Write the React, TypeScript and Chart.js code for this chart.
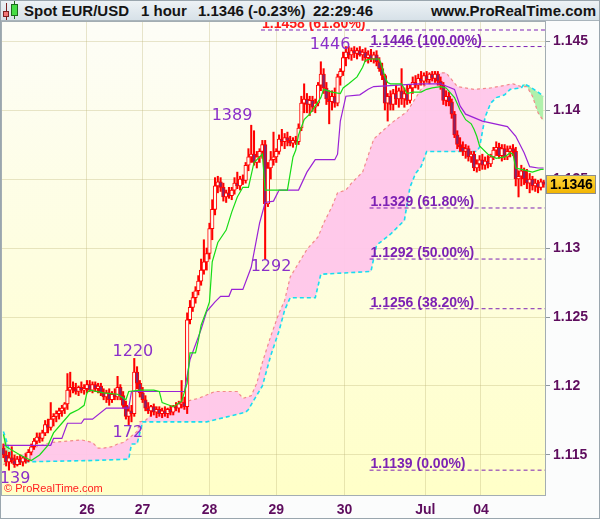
import React, { useEffect, useRef } from 'react';
import { Chart, registerables } from 'chart.js';

Chart.register(...registerables);

// ---------- hourly candles (EUR/USD) ----------
const opens = [1.1155,1.1150,1.1145,1.1148,1.1146,1.1143,1.1147,1.1145,1.1148,1.1146,
1.1152,1.1156,1.1160,1.1163,1.1162,1.1166,1.1172,1.1170,1.1176,1.1178,
1.1180,1.1182,1.1184,1.1187,1.1197,1.1199,1.1198,1.1196,1.1199,1.1197,
1.1198,1.1201,1.1197,1.1201,1.1198,1.1200,1.1195,1.1192,1.1195,1.1190,
1.1194,1.1192,1.1199,1.1193,1.1186,1.1178,1.1182,1.1180,1.1210,1.1202,
1.1195,1.1190,1.1184,1.1182,1.1185,1.1181,1.1183,1.1180,1.1182,1.1180,
1.1183,1.1181,1.1185,1.1184,1.1187,1.1188,1.1185,1.1248,1.1257,1.1264,
1.1269,1.1276,1.1284,1.1290,1.1296,1.1314,1.1328,1.1345,1.1348,1.1344,
1.1337,1.1340,1.1338,1.1342,1.1347,1.1345,1.1350,1.1349,1.1360,1.1366,
1.1368,1.1362,1.1366,1.1370,1.1375,1.1332,1.1358,1.1364,1.1366,1.1370,
1.1379,1.1377,1.1380,1.1378,1.1376,1.1378,1.1377,1.1387,1.1405,1.1408,
1.1404,1.1407,1.1402,1.1405,1.1418,1.1426,1.1416,1.1408,1.1406,1.1410,
1.1405,1.1424,1.1428,1.1438,1.1442,1.1440,1.1443,1.1441,1.1443,1.1440,
1.1442,1.1438,1.1440,1.1437,1.1440,1.1435,1.1430,1.1425,1.1405,1.1410,
1.1404,1.1412,1.1408,1.1414,1.1408,1.1412,1.1407,1.1416,1.1420,1.1418,
1.1423,1.1421,1.1425,1.1422,1.1426,1.1423,1.1426,1.1421,1.1418,1.1407,
1.1410,1.1406,1.1397,1.1382,1.1375,1.1373,1.1370,1.1372,1.1366,1.1368,
1.1358,1.1361,1.1364,1.1360,1.1363,1.1361,1.1366,1.1371,1.1373,1.1367,
1.1372,1.1366,1.1370,1.1372,1.1370,1.1350,1.1352,1.1356,1.1350,1.1347,
1.1350,1.1345,1.1347,1.1344,1.1348];

const highs = [1.1158,1.1153,1.1152,1.1156,1.1150,1.1149,1.1150,1.1149,1.1151,1.1154,
1.1158,1.1162,1.1166,1.1166,1.1168,1.1175,1.1176,1.1188,1.1180,1.1182,
1.1184,1.1186,1.1188,1.1209,1.1210,1.1203,1.1202,1.1200,1.1203,1.1201,
1.1204,1.1204,1.1203,1.1203,1.1202,1.1202,1.1198,1.1197,1.1198,1.1196,
1.1198,1.1207,1.1201,1.1196,1.1189,1.1185,1.1186,1.1220,1.1214,1.1204,
1.1199,1.1193,1.1188,1.1186,1.1187,1.1185,1.1185,1.1184,1.1185,1.1184,
1.1186,1.1186,1.1188,1.1189,1.1204,1.1192,1.1253,1.1262,1.1268,1.1272,
1.1280,1.1292,1.1306,1.1300,1.1318,1.1335,1.1351,1.1352,1.1351,1.1347,
1.1342,1.1344,1.1344,1.1351,1.1355,1.1352,1.1353,1.1362,1.1372,1.1389,
1.1385,1.1370,1.1372,1.1378,1.1378,1.1362,1.1370,1.1384,1.1372,1.1382,
1.1386,1.1383,1.1384,1.1381,1.1380,1.1381,1.1390,1.1410,1.1419,1.1412,
1.1410,1.1410,1.1408,1.1420,1.1435,1.1430,1.1420,1.1414,1.1414,1.1416,
1.1426,1.1430,1.1442,1.1446,1.1446,1.1445,1.1446,1.1445,1.1446,1.1444,
1.1445,1.1443,1.1444,1.1442,1.1443,1.1438,1.1434,1.1426,1.1412,1.1414,
1.1415,1.1418,1.1416,1.1430,1.1416,1.1418,1.1418,1.1424,1.1425,1.1426,
1.1428,1.1427,1.1428,1.1427,1.1428,1.1428,1.1428,1.1424,1.1420,1.1414,
1.1413,1.1408,1.1399,1.1385,1.1380,1.1377,1.1375,1.1374,1.1370,1.1370,
1.1364,1.1367,1.1368,1.1366,1.1367,1.1368,1.1373,1.1377,1.1376,1.1375,
1.1375,1.1374,1.1374,1.1375,1.1373,1.1356,1.1360,1.1358,1.1357,1.1354,
1.1352,1.1350,1.1349,1.1350,1.1349];

const lows = [1.1148,1.1142,1.1139,1.1144,1.1141,1.1142,1.1143,1.1142,1.1144,1.1145,
1.1150,1.1154,1.1158,1.1159,1.1160,1.1164,1.1166,1.1168,1.1171,1.1174,
1.1176,1.1178,1.1180,1.1183,1.1192,1.1195,1.1194,1.1193,1.1195,1.1194,
1.1195,1.1196,1.1195,1.1196,1.1195,1.1193,1.1190,1.1188,1.1186,1.1188,
1.1190,1.1190,1.1190,1.1184,1.1176,1.1172,1.1174,1.1178,1.1198,1.1192,
1.1188,1.1182,1.1180,1.1178,1.1179,1.1177,1.1178,1.1177,1.1178,1.1177,
1.1179,1.1179,1.1182,1.1181,1.1184,1.1183,1.1180,1.1245,1.1254,1.1260,
1.1266,1.1273,1.1281,1.1284,1.1292,1.1306,1.1324,1.1340,1.1341,1.1334,
1.1333,1.1336,1.1335,1.1339,1.1343,1.1342,1.1346,1.1347,1.1356,1.1362,
1.1360,1.1358,1.1362,1.1365,1.1292,1.1330,1.1350,1.1360,1.1362,1.1368,
1.1374,1.1372,1.1374,1.1374,1.1373,1.1375,1.1375,1.1385,1.1398,1.1398,
1.1396,1.1399,1.1398,1.1403,1.1414,1.1412,1.1404,1.1390,1.1400,1.1402,
1.1403,1.1418,1.1425,1.1432,1.1437,1.1436,1.1438,1.1437,1.1439,1.1436,
1.1435,1.1434,1.1435,1.1434,1.1432,1.1428,1.1422,1.1400,1.1392,1.1400,
1.1400,1.1404,1.1402,1.1404,1.1402,1.1404,1.1405,1.1412,1.1416,1.1415,
1.1418,1.1418,1.1420,1.1419,1.1421,1.1420,1.1418,1.1415,1.1404,1.1403,
1.1403,1.1394,1.1380,1.1372,1.1370,1.1367,1.1365,1.1363,1.1362,1.1356,
1.1355,1.1356,1.1357,1.1357,1.1358,1.1359,1.1364,1.1367,1.1365,1.1363,
1.1364,1.1364,1.1366,1.1367,1.1345,1.1337,1.1345,1.1346,1.1343,1.1340,
1.1342,1.1341,1.1340,1.1342,1.1344];

const closes = [1.1150,1.1145,1.1148,1.1146,1.1143,1.1147,1.1145,1.1148,1.1146,1.1152,
1.1156,1.1160,1.1163,1.1162,1.1166,1.1172,1.1170,1.1176,1.1178,1.1180,
1.1182,1.1184,1.1187,1.1197,1.1199,1.1198,1.1196,1.1199,1.1197,1.1198,
1.1201,1.1197,1.1201,1.1198,1.1200,1.1195,1.1192,1.1195,1.1190,1.1194,
1.1192,1.1199,1.1193,1.1186,1.1178,1.1182,1.1180,1.1210,1.1202,1.1195,
1.1190,1.1184,1.1182,1.1185,1.1181,1.1183,1.1180,1.1182,1.1180,1.1183,
1.1181,1.1185,1.1184,1.1187,1.1188,1.1185,1.1248,1.1257,1.1264,1.1269,
1.1276,1.1284,1.1290,1.1296,1.1314,1.1328,1.1345,1.1348,1.1344,1.1337,
1.1340,1.1338,1.1342,1.1347,1.1345,1.1350,1.1349,1.1360,1.1366,1.1368,
1.1362,1.1366,1.1370,1.1375,1.1332,1.1358,1.1364,1.1366,1.1370,1.1379,
1.1377,1.1380,1.1378,1.1376,1.1378,1.1377,1.1387,1.1405,1.1408,1.1404,
1.1407,1.1402,1.1405,1.1418,1.1426,1.1416,1.1408,1.1406,1.1410,1.1405,
1.1424,1.1428,1.1438,1.1442,1.1440,1.1443,1.1441,1.1443,1.1440,1.1442,
1.1438,1.1440,1.1437,1.1440,1.1435,1.1430,1.1425,1.1405,1.1410,1.1404,
1.1412,1.1408,1.1414,1.1408,1.1412,1.1407,1.1416,1.1420,1.1418,1.1423,
1.1421,1.1425,1.1422,1.1426,1.1423,1.1426,1.1421,1.1418,1.1407,1.1410,
1.1406,1.1397,1.1382,1.1375,1.1373,1.1370,1.1372,1.1366,1.1368,1.1358,
1.1361,1.1364,1.1360,1.1363,1.1361,1.1366,1.1371,1.1373,1.1367,1.1372,
1.1366,1.1370,1.1372,1.1370,1.1350,1.1352,1.1356,1.1350,1.1347,1.1350,
1.1345,1.1347,1.1344,1.1348,1.1346];

// ---------- Ichimoku lines (vertices: bar index, price) ----------
const tenkanX = [0,1,6,10,13,16,18,21,24,27,29,30,31,36,41,44,45,49,54,56,57,61,64,66,67,69,70,71,73,74,75,77,80,82,84,86,88,90,93,94,102,104,105,106,108,110,112,114,115,118,121,122,124,127,129,130,132,135,136,137,138,139,143,145,147,150,152,154,157,159,162,164,166,168,169,170,171,174,177,180,182,183,184,186,190,193,194];
const tenkanY = [1.1165,1.1156,1.1150,1.1146,1.1150,1.1157,1.1166,1.1173,1.1180,1.1183,1.1186,1.1195,1.1197,1.1195,1.1194,1.1190,1.1196,1.1197,1.1197,1.1196,1.1188,1.1185,1.1189,1.1202,1.1224,1.1224,1.1233,1.1244,1.1255,1.1261,1.1290,1.1304,1.1313,1.1326,1.1337,1.1344,1.1344,1.1362,1.1368,1.1342,1.1342,1.1366,1.1371,1.1382,1.1393,1.1397,1.1403,1.1409,1.1415,1.1413,1.1412,1.1416,1.1419,1.1424,1.1431,1.1436,1.1437,1.1437,1.1431,1.1424,1.1420,1.1419,1.1419,1.1412,1.1413,1.1413,1.1415,1.1416,1.1417,1.1416,1.1409,1.1400,1.1393,1.1390,1.1386,1.1381,1.1374,1.1368,1.1365,1.1366,1.1369,1.1368,1.1358,1.1357,1.1355,1.1357,1.1357];

const kijunX = [0,17,18,21,23,28,29,32,37,45,46,65,67,71,73,76,78,81,82,86,89,92,94,97,99,106,109,112,119,120,121,123,128,131,133,149,157,162,164,166,172,181,184,187,189,192,194];
const kijunY = [1.1157,1.1157,1.1162,1.1162,1.1173,1.1173,1.1176,1.1176,1.1184,1.1184,1.1196,1.1196,1.1219,1.1241,1.1254,1.1261,1.1265,1.1265,1.1270,1.1270,1.1286,1.1318,1.1333,1.1334,1.1342,1.1342,1.1355,1.1364,1.1364,1.1368,1.1392,1.1410,1.1411,1.1415,1.1417,1.1419,1.1419,1.1415,1.1403,1.1397,1.1392,1.1388,1.1381,1.1369,1.1359,1.1358,1.1358];

const spanAX = [0,3,6,10,12,17,23,28,32,34,36,39,41,43,45,48,49,51,53,55,58,61,66,70,76,84,86,89,91,93,96,99,101,103,106,109,113,115,118,120,123,125,129,133,139,145,150,156,159,163,169,175,183,186,188,190,192,194];
const spanAY = [1.1143,1.1146,1.1149,1.1154,1.1156,1.1159,1.1160,1.1161,1.1159,1.1155,1.1155,1.1156,1.1158,1.1159,1.1162,1.1167,1.1174,1.1175,1.1179,1.1180,1.1183,1.1185,1.1189,1.1191,1.1196,1.1196,1.1191,1.1193,1.1202,1.1217,1.1236,1.1253,1.1262,1.1279,1.1289,1.1299,1.1308,1.1318,1.1330,1.1340,1.1342,1.1347,1.1355,1.1379,1.1390,1.1399,1.1415,1.1427,1.1427,1.1417,1.1415,1.1416,1.1419,1.1417,1.1417,1.1410,1.1398,1.1392];

const spanBX = [0,1,3,6,32,45,46,48,50,73,87,88,90,93,96,99,101,103,112,114,132,134,139,144,146,148,150,152,170,171,172,173,175,177,180,182,186,187,189,192,194];
const spanBY = [1.1167,1.1161,1.1148,1.1145,1.1146,1.1147,1.1158,1.1158,1.1174,1.1174,1.1181,1.1183,1.1190,1.1200,1.1222,1.1240,1.1255,1.1264,1.1264,1.1281,1.1283,1.1302,1.1310,1.1320,1.1344,1.1354,1.1359,1.1370,1.1370,1.1373,1.1384,1.1395,1.1405,1.1409,1.1411,1.1415,1.1416,1.1419,1.1417,1.1413,1.1410];

// ---------- Fibonacci retracement ----------
const fibLevels = [1.1458, 1.1446, 1.1329, 1.1292, 1.1256, 1.1139];
const fibTexts = ['1.1458 (61.80%)', '1.1446 (100.00%)', '1.1329 (61.80%)', '1.1292 (50.00%)', '1.1256 (38.20%)', '1.1139 (0.00%)'];
const fibStart = [92.5, 131.5, 131.5, 131.5, 131.5, 131.5];
const fibEnd = 194.5;

// ---------- swing labels ----------
const peakTexts = ['139', '172', '1220', '1389', '1292', '1446'];
const peakX = [4.2, 44.7, 46.5, 82.1, 96.1, 117.3];
const peakY = [1.1133, 1.1166, 1.1225, 1.1396, 1.1286, 1.1447];

// ---------- axes ----------
const dayTicks = [30, 50, 74, 98, 122.5, 151.5, 171.5];
const dayLabels = ['26', '27', '28', '29', '30', 'Jul', '04'];
const yTicks = [1.115, 1.12, 1.125, 1.13, 1.135, 1.14, 1.145];
const yTickLabels = ['1.115', '1.12', '1.125', '1.13', '1.135', '1.14', '1.145'];
const yMin = 1.1121;
const yMax = 1.14638;
const lastPrice = 1.1346;
const lastPriceText = '1.1346';

const FONT = '"Liberation Sans", Arial, sans-serif';
const AXIS_COLOR = '#5e0d5e';
const FIB_COLOR = '#7d22b4';
const GRID = 'rgba(190,180,120,0.35)';

function pts(xs: number[], ys: number[]) {
  return xs.map((x, k) => ({ x, y: ys[k] }));
}

const decor = {
  id: 'decor',
  beforeDraw(chart: any) {
    const { ctx, chartArea: a, width, height } = chart;
    ctx.save();
    ctx.fillStyle = '#fbfcfc';
    ctx.fillRect(0, 0, width, height);
    const g = ctx.createLinearGradient(0, a.top, 0, a.bottom);
    g.addColorStop(0, '#fdfdf7');
    g.addColorStop(1, '#ffffc8');
    ctx.fillStyle = g;
    ctx.fillRect(a.left, a.top, a.right - a.left, a.bottom - a.top);
    ctx.restore();
  },
  afterDatasetsDraw(chart: any) {
    const { ctx, chartArea: a, scales } = chart;
    const xs = scales.x, ys = scales.y;
    ctx.save();
    ctx.beginPath();
    ctx.rect(a.left, a.top, a.right - a.left, a.bottom - a.top);
    ctx.clip();
    ctx.font = `bold 14px ${FONT}`;
    ctx.textAlign = 'left';
    ctx.textBaseline = 'alphabetic';
    fibLevels.forEach((lv, k) => {
      ctx.fillStyle = k === 0 ? '#ff1a1a' : FIB_COLOR;
      ctx.fillText(fibTexts[k], xs.getPixelForValue(fibStart[k]) + 1, ys.getPixelForValue(lv) - 2);
    });
    ctx.font = '16px "DejaVu Sans", sans-serif';
    ctx.textAlign = 'center';
    ctx.textBaseline = 'middle';
    ctx.fillStyle = '#8b2fc9';
    peakTexts.forEach((t, k) => {
      ctx.fillText(t, xs.getPixelForValue(peakX[k]), ys.getPixelForValue(peakY[k]));
    });
    ctx.font = `11px ${FONT}`;
    ctx.textAlign = 'left';
    ctx.textBaseline = 'alphabetic';
    ctx.fillStyle = '#ff2020';
    ctx.fillText('\u00A9 ProRealTime.com', a.left + 2, a.bottom - 3);
    ctx.restore();
  },
  afterDraw(chart: any) {
    const { ctx, chartArea: a, scales } = chart;
    ctx.save();
    ctx.strokeStyle = '#a3adb3';
    ctx.lineWidth = 1;
    ctx.strokeRect(a.left - 0.5, a.top - 0.5, a.right - a.left + 1, a.bottom - a.top + 1);
    const y = scales.y.getPixelForValue(lastPrice);
    const bx = a.right + 1, bw = 50, bh = 19;
    const g = ctx.createLinearGradient(0, y - bh / 2, 0, y + bh / 2);
    g.addColorStop(0, '#ffd940');
    g.addColorStop(1, '#f2b300');
    ctx.fillStyle = g;
    ctx.fillRect(bx, Math.round(y - bh / 2), bw, bh);
    ctx.strokeStyle = '#8d8d8d';
    ctx.strokeRect(bx + 0.5, Math.round(y - bh / 2) + 0.5, bw - 1, bh - 1);
    ctx.fillStyle = '#000';
    ctx.font = `bold 14px ${FONT}`;
    ctx.textAlign = 'left';
    ctx.textBaseline = 'middle';
    ctx.fillText(lastPriceText, bx + 4, y + 1);
    ctx.restore();
  },
};

export default function App() {
  const ref = useRef<HTMLCanvasElement | null>(null);

  useEffect(() => {
    if (!ref.current) return;
    const idx = opens.map((_, i) => i);
    const purple = '#9a22d6';
    const chart = new Chart(ref.current, {
      type: 'bar',
      data: {
        datasets: [
          {
            type: 'line', label: 'SpanA', data: pts(spanAX, spanAY),
            borderColor: '#f28a8a', borderWidth: 1.2, borderDash: [3, 3], pointRadius: 0, tension: 0,
            fill: { target: '+1', above: 'rgba(255,198,234,0.95)', below: 'rgba(172,240,168,0.95)' },
            order: 6,
          } as any,
          {
            type: 'line', label: 'SpanB', data: pts(spanBX, spanBY),
            borderColor: '#19dcf0', borderWidth: 1.6, borderDash: [4, 3], pointRadius: 0, tension: 0, fill: false,
            order: 5,
          } as any,
          {
            type: 'bar', label: 'wick', data: idx.map((i) => ({ x: i, y: [lows[i], highs[i]] })),
            backgroundColor: '#ff0000', borderWidth: 0, barThickness: 1.4, grouped: false, order: 4,
          } as any,
          {
            type: 'bar', label: 'body', data: idx.map((i) => ({ x: i, y: [opens[i], closes[i]] })),
            backgroundColor: (c: any) => (closes[c.dataIndex] >= opens[c.dataIndex] ? '#fffdf2' : '#86246a'),
            borderColor: '#ff0000', borderWidth: 1, borderSkipped: false, barThickness: 3.6, grouped: false,
            minBarLength: 1.5, order: 3,
          } as any,
          {
            type: 'line', label: 'Kijun', data: pts(kijunX, kijunY),
            borderColor: purple, borderWidth: 1.2, pointRadius: 0, tension: 0, fill: false, order: 2,
          } as any,
          {
            type: 'line', label: 'Tenkan', data: pts(tenkanX, tenkanY),
            borderColor: '#16dc16', borderWidth: 1.2, pointRadius: 0, tension: 0, fill: false, order: 1,
          } as any,
          ...fibLevels.map((lv, k) => ({
            type: 'line', label: 'fib' + k,
            data: [{ x: fibStart[k], y: lv }, { x: fibEnd, y: lv }],
            borderColor: FIB_COLOR, borderWidth: 1, borderDash: [4, 3], pointRadius: 0, fill: false, order: 0,
          } as any)),
        ],
      },
      options: {
        responsive: false,
        animation: false,
        events: [],
        normalized: true,
        layout: { padding: { left: 2, top: 1, right: 0, bottom: 0 } },
        plugins: { legend: { display: false }, tooltip: { enabled: false } },
        scales: {
          x: {
            type: 'linear', min: -0.5, max: 194.5, offset: false,
            afterBuildTicks: (s: any) => { s.ticks = dayTicks.map((v) => ({ value: v })); },
            afterFit: (s: any) => { s.height = 24; s.paddingLeft = 0; s.paddingRight = 0; },
            ticks: {
              autoSkip: false, maxRotation: 0, padding: 7, color: AXIS_COLOR,
              font: { family: FONT, size: 14, weight: 'bold' },
              callback: (_v: any, i: number) => dayLabels[i],
            },
            grid: { color: GRID, drawTicks: false, offset: false },
            border: { display: false },
          },
          y: {
            type: 'linear', position: 'right', min: yMin, max: yMax,
            afterBuildTicks: (s: any) => { s.ticks = yTicks.map((v) => ({ value: v })); },
            afterFit: (s: any) => { s.width = 55; s.paddingTop = 0; s.paddingBottom = 0; },
            ticks: {
              padding: 3, color: AXIS_COLOR,
              font: { family: FONT, size: 14, weight: 'bold' },
              callback: (_v: any, i: number) => yTickLabels[i],
            },
            grid: { color: GRID, tickColor: '#8f989e', tickLength: 5 },
            border: { display: false },
          },
        } as any,
      } as any,
      plugins: [decor],
    });
    return () => chart.destroy();
  }, []);

  const txt: React.CSSProperties = {
    position: 'absolute', top: 0, lineHeight: '21px', fontSize: 15, fontWeight: 'bold', color: '#141414', whiteSpace: 'nowrap',
  };

  return (
    <div style={{ position: 'fixed', left: 0, top: 0, width: 600, height: 519, overflow: 'hidden', background: '#fbfcfc', fontFamily: FONT }}>
      <div style={{ position: 'absolute', left: 0, top: 0, width: 600, height: 21, boxSizing: 'border-box', borderBottom: '1px solid #a9b4bb', background: 'linear-gradient(#eef3f6, #d7e1e8)' }}>
        <div style={{ position: 'absolute', left: 6, top: 3, width: 1, height: 17, background: '#7a2020' }} />
        <div style={{ position: 'absolute', left: 3, top: 11, width: 6, height: 6, boxSizing: 'border-box', border: '1px solid #7a2020', background: '#f07575' }} />
        <div style={{ position: 'absolute', left: 14, top: 1, width: 1, height: 18, background: '#1d6a1d' }} />
        <div style={{ position: 'absolute', left: 11, top: 4, width: 7, height: 12, boxSizing: 'border-box', border: '1px solid #1d6a1d', background: '#45dd45' }} />
        <span style={{ ...txt, left: 24 }}>Spot EUR/USD</span>
        <span style={{ ...txt, left: 141 }}>1 hour</span>
        <span style={{ ...txt, left: 198 }}>1.1346 (-0.23%)</span>
        <span style={{ ...txt, left: 313 }}>22:29:46</span>
        <span style={{ ...txt, right: 4 }}>www.ProRealTime.com</span>
      </div>
      <canvas ref={ref} width={600} height={498} style={{ position: 'absolute', left: 0, top: 21, display: 'block' }} />
      <div style={{ position: 'absolute', left: 0, top: 0, width: 600, height: 519, boxSizing: 'border-box', border: '1px solid #9aa6ae', pointerEvents: 'none' }} />
    </div>
  );
}
